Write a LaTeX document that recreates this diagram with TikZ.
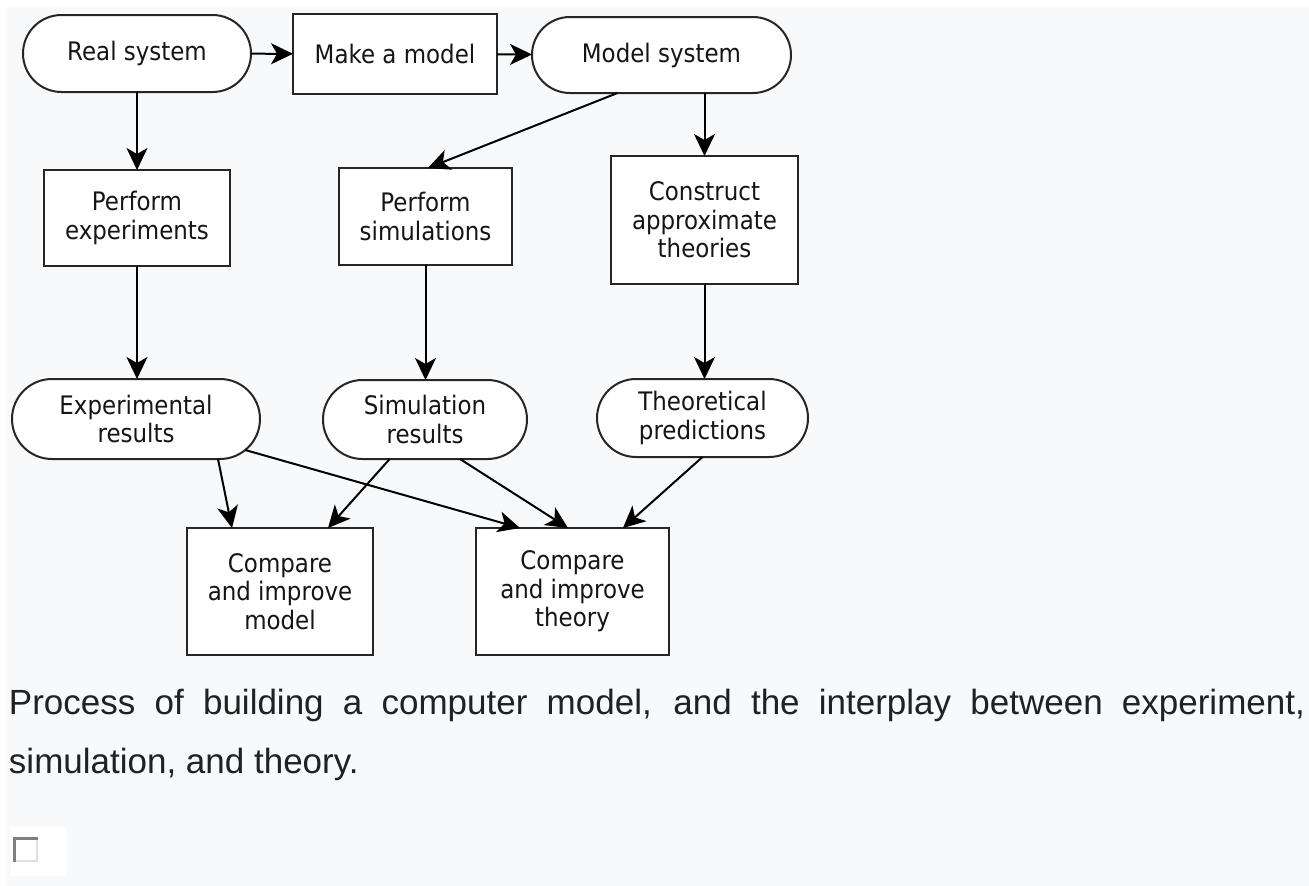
\documentclass[tikz,border=0pt]{standalone}
\usepackage{fontspec}
\setmainfont{DejaVu Sans}
\newfontfamily\boxfont[FakeStretch=0.9]{DejaVu Sans}
\newfontfamily\capfont{Liberation Sans}
\usetikzlibrary{arrows.meta,shapes.misc,calc}
\definecolor{pagebg}{HTML}{F8F9FA}
\definecolor{inkline}{HTML}{262626}
\definecolor{inktext}{HTML}{151515}
\definecolor{captext}{HTML}{202122}
\newcommand\diagfont{\boxfont\fontsize{25.5}{28.5}\selectfont}
\begin{document}
\begin{tikzpicture}[x=1pt,y=-1pt,
  box/.style={draw=inkline, fill=white, line width=2pt, rectangle,
    inner sep=0pt, outer sep=0pt, align=center, text=inktext, font=\diagfont},
  pill/.style={box, rounded rectangle},
  flow/.style={draw=black, line width=2pt,
    -{Stealth[length=22pt,width=21pt,inset=6pt]}},
  captext/.style={inner sep=0pt, outer sep=0pt, anchor=base west,
    text=captext, font=\capfont\fontsize{35}{40}\selectfont}]

% page background with the thin white margin at top and left
\useasboundingbox (0,0) rectangle (1309,886);
\fill[pagebg] (0,0) rectangle (1309,886);
\fill[white] (0,0) rectangle (1309,7);
\fill[white] (0,0) rectangle (7,886);

% first row
\node[pill, minimum width=228pt, minimum height=77pt] (real) at (137,53.5) {Real system};
\node[box, minimum width=204pt, minimum height=80pt] (make) at (395,54) {Make a model};
\node[pill, minimum width=259pt, minimum height=76pt] (model) at (661.5,55) {Model system};

% second row
\node[box, minimum width=186pt, minimum height=96pt] (pexp) at (137,218) {Perform\\experiments};
\node[box, minimum width=173pt, minimum height=97pt] (psim) at (425.5,216.5) {Perform\\simulations};
\node[box, minimum width=187pt, minimum height=128pt] (cons) at (704.5,220) {Construct\\approximate\\theories};

% third row
\node[pill, minimum width=248pt, minimum height=80pt] (exp) at (136,419) {Experimental\\results};
\node[pill, minimum width=204pt, minimum height=79pt] (sim) at (425,419.5) {Simulation\\results};
\node[pill, minimum width=211pt, minimum height=78pt] (theo) at (702.5,418) {Theoretical\\predictions};

% fourth row
\node[box, minimum width=186pt, minimum height=127pt] (cmodel) at (280,591.5) {Compare\\and improve\\model};
\node[box, minimum width=193pt, minimum height=127pt] (ctheory) at (572.5,591.5) {Compare\\and improve\\theory};

% connectors
\draw[flow] (real) -- (make);
\draw[flow] (make) -- (model);
\draw[flow] (real.south) -- (pexp.north);
\draw[flow] ([xshift=-44pt]model.south) -- ([xshift=2.5pt]psim.north);
\draw[flow] (model.south -| cons.north) -- (cons.north);
\draw[flow] (pexp.south) -- (pexp.south |- exp.north);
\draw[flow] (psim.south) -- (psim.south |- sim.north);
\draw[flow] (cons.south) -- (cons.south |- theo.north);
\draw[flow] ([xshift=82pt]exp.south) -- ([xshift=-48pt]cmodel.north);
\draw[flow] (exp) -- ([xshift=-52.5pt]ctheory.north);
\draw[flow] (sim) -- ([xshift=48pt]cmodel.north);
\draw[flow] ([xshift=35pt]sim.south) -- ([xshift=-4.5pt]ctheory.north);
\draw[flow] (theo.south) -- ([xshift=50.5pt]ctheory.north);

% caption
\node[captext] (cap1) at (9,714)
  {\makebox[1296pt][s]{Process of building a computer model, and the interplay between experiment,}};
\node[captext] (cap2) at (9,773) {simulation, and theory.};

% checkbox
\fill[white] (11,827) rectangle (66,876);
\fill[white] (13,837) rectangle (38,862);
\draw[color=black!12, line width=2pt] (37,838) -- (37,861) -- (14,861);
\draw[color=black!50, line width=3pt] (14.5,862) -- (14.5,838.5) -- (38,838.5);
\end{tikzpicture}
\end{document}
